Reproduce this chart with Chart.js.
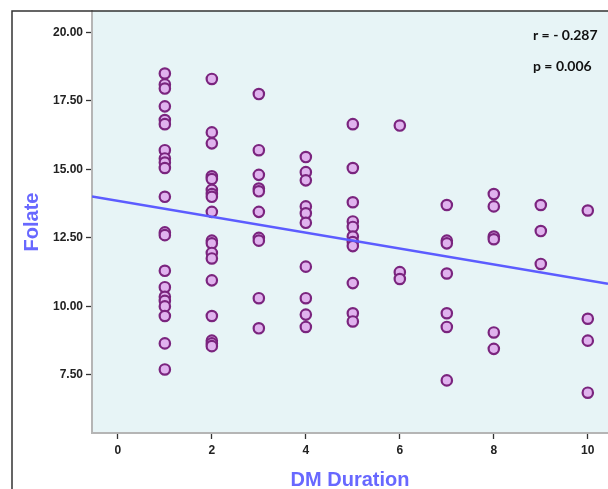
<!DOCTYPE html>
<html>
<head>
<meta charset="utf-8">
<script src="https://cdn.jsdelivr.net/npm/chart.js@4.4.1/dist/chart.umd.min.js"></script>
<style>
    html, body { margin: 0; padding: 0; background: #fff; }
    .wrap { width: 608px; height: 489px; }
</style>
</head>
<body>
<div class="wrap"><canvas id="chart" width="608" height="489"></canvas></div>
<script>
// DM duration (years) for each patient, with folate level
var duration = [
    1,1,1,1,1,1,1,1,1,1,1,1,1,1,1,1,1,1,1,1,1,
    2,2,2,2,2,2,2,2,2,2,2,2,2,2,2,2,2,2,
    3,3,3,3,3,3,3,3,3,3,
    4,4,4,4,4,4,4,4,4,4,
    5,5,5,5,5,5,5,5,5,5,5,
    6,6,6,
    7,7,7,7,7,7,7,
    8,8,8,8,8,8,
    9,9,9,
    10,10,10,10
];
var folate = [
    18.5,18.1,17.95,17.3,16.8,16.65,15.7,15.4,15.25,15.05,14.0,12.7,12.6,11.3,10.7,10.35,10.2,10.0,9.65,8.65,7.7,
    18.3,16.35,15.95,14.75,14.65,14.25,14.1,14.0,13.45,12.4,12.3,11.95,11.75,10.95,9.65,8.75,8.65,8.55,
    17.75,15.7,14.8,14.3,14.2,13.45,12.5,12.4,10.3,9.2,
    15.45,14.9,14.6,13.65,13.4,13.05,11.45,10.3,9.7,9.25,
    16.65,15.05,13.8,13.1,12.9,12.55,12.35,12.2,10.85,9.75,9.45,
    16.6,11.25,11.0,
    13.7,12.4,12.3,11.2,9.75,9.25,7.3,
    14.1,13.65,12.55,12.45,9.05,8.45,
    13.7,12.75,11.55,
    13.5,9.55,8.75,6.85
];
// fit line
var fitIntercept = 13.85;
var fitSlope = -0.29;
var xTicks = [0, 2, 4, 6, 8, 10];
var yTicks = [7.5, 10, 12.5, 15, 17.5, 20];
var notes = ['r = - 0.287', 'p = 0.006'];

var xMin = -0.55, xMax = 10.43;
var yMin = 5.38, yMax = 20.78;

var points = duration.map(function(d, i) { return {x: d, y: folate[i]}; });
var fit = [xMin, xMax].map(function(x) { return {x: x, y: fitIntercept + fitSlope * x}; });

var titleColor = 'rgb(104,104,255)';

var frame = {
    id: 'frame',
    beforeDraw: function(chart) {
        var ctx = chart.ctx, a = chart.chartArea;
        ctx.save();
        ctx.fillStyle = '#e7f4f6';
        ctx.fillRect(a.left, a.top, a.right - a.left, a.bottom - a.top);
        ctx.restore();
    },
    afterDraw: function(chart) {
        var ctx = chart.ctx;
        ctx.save();
        ctx.strokeStyle = '#333';
        ctx.lineWidth = 1.5;
        ctx.beginPath();
        ctx.moveTo(12, 489);
        ctx.lineTo(12, 11);
        ctx.lineTo(608, 11);
        ctx.stroke();
        ctx.fillStyle = '#111';
        ctx.font = 'bold 14px Lato';
        ctx.textBaseline = 'middle';
        ctx.fillText(notes[0], 533, 35);
        ctx.fillText(notes[1], 533, 66);
        ctx.restore();
    }
};

new Chart(document.getElementById('chart'), {
    type: 'scatter',
    data: {
        datasets: [{
            data: points,
            pointRadius: 5.2,
            pointBorderWidth: 2.2,
            pointBackgroundColor: 'rgb(224,178,238)',
            pointBorderColor: 'rgb(122,36,126)',
            order: 2
        }, {
            type: 'line',
            data: fit,
            borderColor: 'rgb(92,92,255)',
            borderWidth: 2.5,
            pointRadius: 0,
            order: 1
        }]
    },
    options: {
        responsive: false,
        animation: false,
        layout: { autoPadding: false, padding: { left: 0, top: 11, right: 0, bottom: 0 } },
        plugins: { legend: { display: false }, tooltip: { enabled: false } },
        scales: {
            x: {
                type: 'linear',
                min: xMin,
                max: xMax,
                afterFit: function(s) { s.height = 56; },
                afterBuildTicks: function(s) { s.ticks = xTicks.map(function(v) { return {value: v}; }); },
                border: { color: '#b5b5b5', width: 2 },
                grid: { drawOnChartArea: false, color: '#333', tickLength: 6, tickWidth: 1.3 },
                ticks: {
                    color: '#222',
                    padding: 4,
                    maxRotation: 0,
                    font: { family: 'Liberation Sans', weight: 'bold', size: 12 },
                    callback: function(v) { return String(v); }
                },
                title: {
                    display: true,
                    text: 'DM Duration',
                    color: titleColor,
                    padding: { top: 0, bottom: -1 },
                    font: { family: 'Liberation Sans', weight: 'bold', size: 20, lineHeight: 1 }
                }
            },
            y: {
                type: 'linear',
                min: yMin,
                max: yMax,
                afterFit: function(s) { s.width = 92; },
                afterBuildTicks: function(s) { s.ticks = yTicks.map(function(v) { return {value: v}; }); },
                border: { color: '#b5b5b5', width: 2 },
                grid: { drawOnChartArea: false, color: '#333', tickLength: 6, tickWidth: 1.3 },
                ticks: {
                    color: '#222',
                    padding: 3,
                    font: { family: 'Liberation Sans', weight: 'bold', size: 12 },
                    callback: function(v) { return Number(v).toFixed(2); }
                },
                title: {
                    display: true,
                    text: 'Folate',
                    color: titleColor,
                    padding: { top: 22, bottom: 0 },
                    font: { family: 'Liberation Sans', weight: 'bold', size: 20, lineHeight: 1 }
                }
            }
        }
    },
    plugins: [frame]
});
</script>
</body>
</html>
